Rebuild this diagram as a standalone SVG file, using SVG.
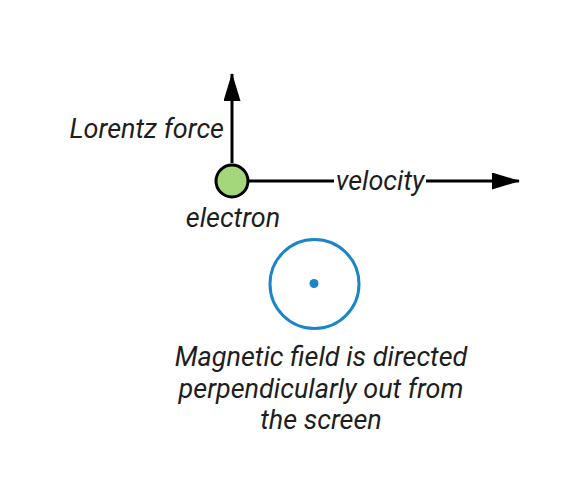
<svg xmlns="http://www.w3.org/2000/svg" width="564" height="503" viewBox="0 0 564 503">
<style>
.t{font-family:Roboto,"Liberation Sans",sans-serif;font-style:italic;font-size:27px;fill:#1e1e1e}
.ln{stroke:#000;stroke-width:3;fill:none}
</style>
<defs>
<marker id="ah" markerUnits="userSpaceOnUse" viewBox="0 0 28 17" markerWidth="28" markerHeight="17" refX="27" refY="8.5" orient="auto">
<path d="M0,0 L28,8.5 L0,17 z" fill="#000"/>
</marker>
</defs>
<rect width="564" height="503" fill="#fff"/>
<g id="connectors">
<path class="ln" d="M249,181 L334,181"/>
<path class="ln" d="M426,181 L519,181" marker-end="url(#ah)"/>
<path class="ln" d="M232,163 L232,74" marker-end="url(#ah)"/>
</g>
<g id="electron">
<circle cx="232" cy="181" r="16" fill="#a4d67c" stroke="#000" stroke-width="3"/>
<text class="t" x="233" y="227" text-anchor="middle">electron</text>
</g>
<g id="lorentz">
<text class="t" x="224" y="138" text-anchor="end">Lorentz force</text>
</g>
<g id="velocity">
<text class="t" x="380" y="190" text-anchor="middle">velocity</text>
</g>
<g id="field">
<circle cx="314.5" cy="284" r="44.5" fill="none" stroke="#1a85c8" stroke-width="3"/>
<circle cx="314" cy="283.5" r="4.5" fill="#1a85c8"/>
<text class="t" text-anchor="middle"><tspan x="321" y="366">Magnetic field is directed</tspan><tspan x="321" y="398">perpendicularly out from</tspan><tspan x="321" y="429">the screen</tspan></text>
</g>
</svg>
